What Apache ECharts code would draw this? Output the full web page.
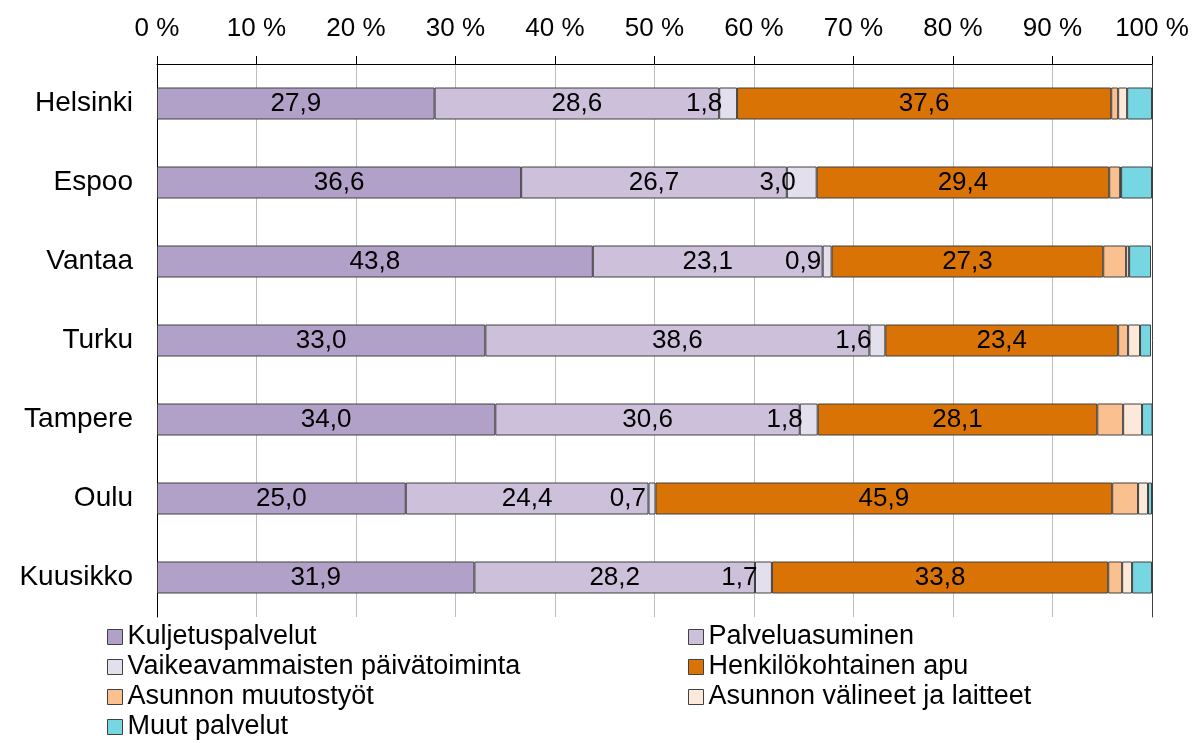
<!DOCTYPE html>
<html>
<head>
<meta charset="utf-8">
<script src="https://cdn.jsdelivr.net/npm/echarts@6/dist/echarts.min.js"></script>
<style>
  html, body { margin: 0; padding: 0; background: #fff; }
  #chart { width: 1195px; height: 743px; }
</style>
</head>
<body>
<div id="chart"></div>
<script>
const cities = ['Helsinki', 'Espoo', 'Vantaa', 'Turku', 'Tampere', 'Oulu', 'Kuusikko'];
const kuljetus = [27.9, 36.6, 43.8, 33.0, 34.0, 25.0, 31.9];
const palvelu = [28.6, 26.7, 23.1, 38.6, 30.6, 24.4, 28.2];
const vaikea = [1.8, 3.0, 0.9, 1.6, 1.8, 0.7, 1.7];
const henkilo = [37.6, 29.4, 27.3, 23.4, 28.1, 45.9, 33.8];
const muutos = [0.7, 1.1, 2.3, 1.0, 2.6, 2.6, 1.4];
const valineet = [0.9, 0.1, 0.3, 1.2, 1.9, 1.0, 1.0];
const muut = [2.5, 3.1, 2.2, 1.1, 1.1, 0.4, 2.0];

const font = 'Liberation Sans, Arial, sans-serif';
const fmt = p => p.value.toFixed(1).replace('.', ',');

// sarja: nimi, data, väri, label-asetukset
function bar(name, data, color, label) {
  return {
    name: name,
    type: 'bar',
    stack: 'all',
    data: data,
    barWidth: 32,
    itemStyle: { color: color, borderColor: '#404040', borderWidth: 1 },
    label: label || { show: false },
    emphasis: { disabled: true }
  };
}

const centerLabel = {
  show: true, position: 'inside', color: '#000',
  fontSize: 26, fontFamily: font, formatter: fmt
};

const legendBase = {
  orient: 'vertical', top: 622, bottom: 0, padding: [0, 5],
  icon: 'rect', itemWidth: 15, itemHeight: 15, itemGap: 0,
  itemStyle: { borderColor: '#404040', borderWidth: 1 },
  textStyle: { fontSize: 27, color: '#000', fontFamily: font, lineHeight: 30, padding: [0, 0, 0, 0] }
};

const chart = echarts.init(document.getElementById('chart'));
chart.setOption({
  animation: false,
  textStyle: { fontFamily: font },
  grid: { left: 157, right: 43, top: 64, bottom: 126 },
  xAxis: {
    type: 'value', position: 'top', min: 0, max: 100, interval: 10,
    axisLine: { show: true, lineStyle: { color: '#000', width: 1 } },
    axisTick: { show: true, length: 8, lineStyle: { color: '#000' } },
    axisLabel: { formatter: '{value} %', color: '#000', fontSize: 26, margin: 22, fontFamily: font },
    splitLine: { show: true, lineStyle: { color: '#BFBFBF', width: 1 } }
  },
  yAxis: [{
    type: 'category', data: cities, inverse: true,
    axisLine: { show: true, lineStyle: { color: '#000', width: 1 } },
    axisTick: { show: false },
    axisLabel: { color: '#000', fontSize: 28, margin: 24, fontFamily: font }
  }, {
    type: 'category', data: cities, inverse: true, position: 'right',
    axisLine: { show: true, lineStyle: { color: '#404040', width: 1 } },
    axisTick: { show: false }, axisLabel: { show: false }
  }],
  legend: [
    Object.assign({}, legendBase, {
      left: 102,
      data: ['Kuljetuspalvelut', 'Vaikeavammaisten päivätoiminta', 'Asunnon muutostyöt', 'Muut palvelut']
    }),
    Object.assign({}, legendBase, {
      left: 683,
      data: ['Palveluasuminen', 'Henkilökohtainen apu', 'Asunnon välineet ja laitteet']
    })
  ],
  series: [
    bar('Kuljetuspalvelut', kuljetus, '#B1A0C7', centerLabel),
    bar('Palveluasuminen', palvelu, '#CCC0DA', centerLabel),
    bar('Vaikeavammaisten päivätoiminta', vaikea, '#E4DFEC',
      Object.assign({}, centerLabel, { align: 'right', offset: [-6, 0] })),
    bar('Henkilökohtainen apu', henkilo, '#DA7306', centerLabel),
    bar('Asunnon muutostyöt', muutos, '#FAC090'),
    bar('Asunnon välineet ja laitteet', valineet, '#FDE9D9'),
    bar('Muut palvelut', muut, '#76D6E2')
  ]
});
</script>
</body>
</html>
